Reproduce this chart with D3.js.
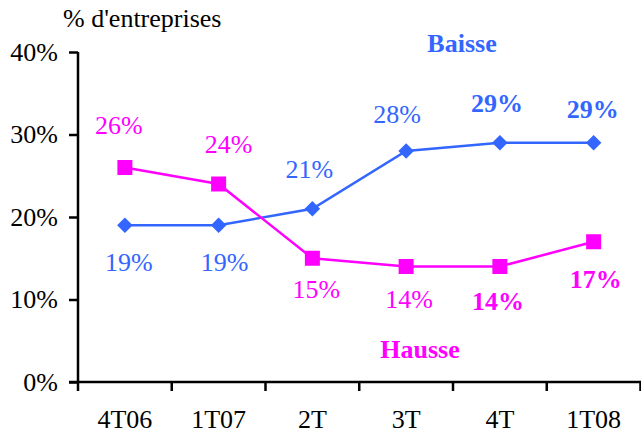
<!DOCTYPE html>
<html>
<head>
<meta charset="utf-8">
<script src="https://cdn.jsdelivr.net/npm/d3@7"></script>
<style>
  body { margin: 0; background: #fff; }
  text { font-family: "Liberation Serif", "Times New Roman", serif; }
</style>
</head>
<body>
<div id="chart"></div>
<script>
// Quarters and the two series (% of firms)
const quarters = ["4T06", "1T07", "2T", "3T", "4T", "1T08"];
const baisse = [19, 19, 21, 28, 29, 29];
const hausse = [26, 24, 15, 14, 14, 17];
const yTicks = [0, 10, 20, 30, 40];
// which labels are bold
const baisseBold = [false, false, false, false, true, true];
const hausseBold = [false, false, false, false, true, true];

const blue = "#3366ff";
const pink = "#ff00ff";
const fs = "26px";

const width = 641, height = 435;
const margin = {top: 52, right: 0, bottom: 53, left: 78};

const svg = d3.select("#chart")
    .append("svg")
    .attr("width", width)
    .attr("height", height);

const x = d3.scaleBand()
    .domain(quarters)
    .range([margin.left, width - 0.5]);

const y = d3.scaleLinear()
    .domain([0, 40])
    .range([height - margin.bottom, margin.top]);

const cx = d => x(d) + x.bandwidth() / 2;

// Title of the y axis
svg.append("text")
    .attr("x", 63)
    .attr("y", 27)
    .style("font-size", fs)
    .text("% d'entreprises");

// y axis
const yAxis = svg.append("g")
    .attr("transform", `translate(${margin.left},0)`)
    .call(d3.axisLeft(y).tickValues(yTicks).tickFormat(d => d + "%").tickSize(9).tickPadding(11));
yAxis.select(".domain").attr("stroke-width", 2.5).attr("d", `M0,${y(40)}V${y(0)}`);
yAxis.selectAll(".tick line").attr("stroke-width", 2.5);
yAxis.selectAll(".tick text")
    .style("font-size", fs)
    .attr("fill", "#000")
    .attr("dy", "0.32em");

// x axis with ticks between categories
const xAxisG = svg.append("g")
    .attr("transform", `translate(0,${y(0)})`);
xAxisG.append("line")
    .attr("x1", margin.left - 9).attr("x2", width)
    .attr("stroke", "#000").attr("stroke-width", 2.5);
const bounds = quarters.map(q => x(q)).concat([x(quarters[quarters.length - 1]) + x.bandwidth()]);
xAxisG.selectAll(".xt")
    .data(bounds)
    .enter().append("line")
    .attr("x1", d => d).attr("x2", d => d)
    .attr("y1", 0).attr("y2", 9)
    .attr("stroke", "#000").attr("stroke-width", 2.5);
xAxisG.selectAll(".xl")
    .data(quarters)
    .enter().append("text")
    .attr("x", d => cx(d))
    .attr("y", 46)
    .attr("text-anchor", "middle")
    .style("font-size", fs)
    .text(d => d);

const line = d3.line()
    .x((d, i) => cx(quarters[i]))
    .y(d => y(d));

// Baisse series
svg.append("path")
    .datum(baisse)
    .attr("d", line)
    .attr("fill", "none")
    .attr("stroke", blue)
    .attr("stroke-width", 2.5);

svg.selectAll(".dia")
    .data(baisse)
    .enter().append("path")
    .attr("d", d3.symbol().type(d3.symbolSquare).size(120))
    .attr("transform", (d, i) => `translate(${cx(quarters[i])},${y(d)}) rotate(45)`)
    .attr("fill", blue);

// Hausse series
svg.append("path")
    .datum(hausse)
    .attr("d", line)
    .attr("fill", "none")
    .attr("stroke", pink)
    .attr("stroke-width", 2.5);

svg.selectAll(".sq")
    .data(hausse)
    .enter().append("rect")
    .attr("x", (d, i) => cx(quarters[i]) - 7.5)
    .attr("y", d => y(d) - 7.5)
    .attr("width", 15)
    .attr("height", 15)
    .attr("fill", pink);

// Data labels (offsets relative to the point)
const baisseLabelOff = [[4, 46], [6, 46], [-3, -31], [-9, -28], [-3, -31], [-1, -25]];
const hausseLabelOff = [[-6, -34], [10, -31], [4, 40], [3, 41], [-2, 43], [2, 46]];

svg.selectAll(".bl")
    .data(baisse)
    .enter().append("text")
    .attr("x", (d, i) => cx(quarters[i]) + baisseLabelOff[i][0])
    .attr("y", (d, i) => y(d) + baisseLabelOff[i][1])
    .attr("text-anchor", "middle")
    .style("font-size", fs)
    .style("font-weight", (d, i) => baisseBold[i] ? "bold" : "normal")
    .attr("fill", blue)
    .text(d => d + "%");

svg.selectAll(".hl")
    .data(hausse)
    .enter().append("text")
    .attr("x", (d, i) => cx(quarters[i]) + hausseLabelOff[i][0])
    .attr("y", (d, i) => y(d) + hausseLabelOff[i][1])
    .attr("text-anchor", "middle")
    .style("font-size", fs)
    .style("font-weight", (d, i) => hausseBold[i] ? "bold" : "normal")
    .attr("fill", pink)
    .text(d => d + "%");

// Series names
svg.append("text")
    .attr("x", 462).attr("y", 52)
    .attr("text-anchor", "middle")
    .style("font-size", fs)
    .style("font-weight", "bold")
    .attr("fill", blue)
    .text("Baisse");

svg.append("text")
    .attr("x", 420).attr("y", 358)
    .attr("text-anchor", "middle")
    .style("font-size", fs)
    .style("font-weight", "bold")
    .attr("fill", pink)
    .text("Hausse");
</script>
</body>
</html>
